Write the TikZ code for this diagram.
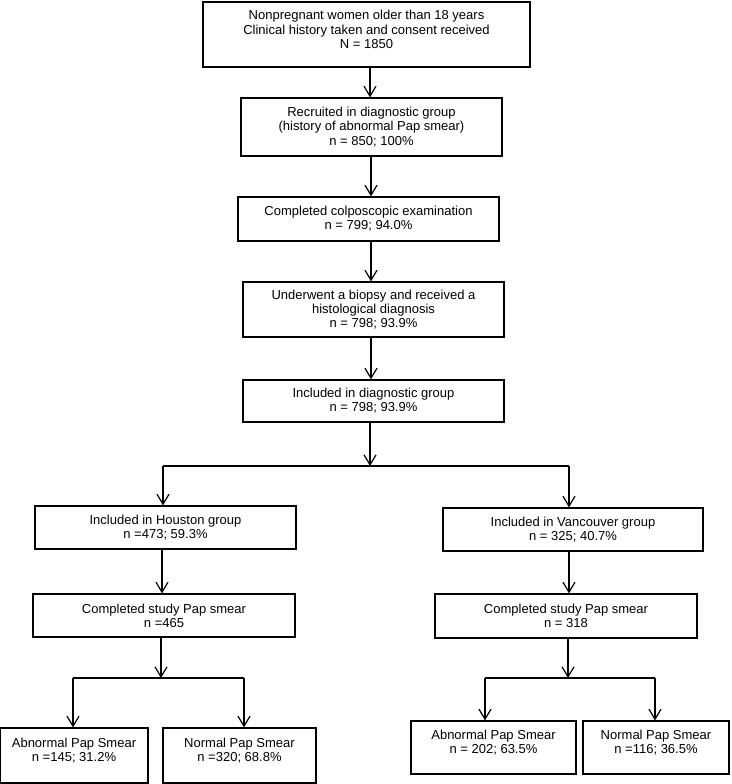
\documentclass[tikz,border=0pt]{standalone}
\usepackage{fontspec}
\setmainfont{Liberation Sans}
\usetikzlibrary{arrows.meta}
\tikzset{
  box/.style={draw=black, line width=1.3pt, rectangle, inner sep=0pt, align=center,
    font=\fontsize{13}{14.2}\selectfont},
  arr/.style={line width=1.2pt, -{Straight Barb[length=10pt,width=12pt,line width=1.2pt]}},
  ln/.style={line width=1.2pt}
}
\begin{document}
\begin{tikzpicture}[x=1pt,y=-1pt]
\useasboundingbox (0,0) rectangle (731,784);
\node[box, minimum width=327, minimum height=65] (b1) at (366.5,34.5)
  {Nonpregnant women older than 18 years\\Clinical history taken and consent received\\N = 1850\\[-4pt]\mbox{}};
\node[box, minimum width=261, minimum height=58] (b2) at (371.5,127)
  {Recruited in diagnostic group\\(history of abnormal Pap smear)\\n = 850; 100\%};
\node[box, minimum width=261, minimum height=44] (b3) at (368.5,219)
  {Completed colposcopic examination\\n = 799; 94.0\%};
\node[box, minimum width=261, minimum height=55] (b4) at (373.5,309.5)
  {Underwent a biopsy and received a\\histological diagnosis\\n = 798; 93.9\%};
\node[box, minimum width=261, minimum height=42] (b5) at (373.5,401)
  {Included in diagnostic group\\n = 798; 93.9\%};
\node[box, minimum width=261, minimum height=43] (hou) at (165.5,527.5)
  {Included in Houston group\\n =473; 59.3\%};
\node[box, minimum width=260, minimum height=43] (van) at (573,529.5)
  {Included in Vancouver group\\n = 325; 40.7\%};
\node[box, minimum width=262, minimum height=43] (ch) at (164,615.5)
  {Completed study Pap smear\\n =465};
\node[box, minimum width=262, minimum height=44] (cv) at (566,616)
  {Completed study Pap smear\\n = 318};
\node[box, minimum width=148, minimum height=55] (ah) at (74,755.5)
  {Abnormal Pap Smear\\n =145; 31.2\%\\[-2pt]\mbox{}};
\node[box, minimum width=153, minimum height=55] (nh) at (239.5,755.5)
  {Normal Pap Smear\\n =320; 68.8\%\\[-2pt]\mbox{}};
\node[box, minimum width=165, minimum height=53] (av) at (493.5,747.5)
  {Abnormal Pap Smear\\n = 202; 63.5\%\\[-2pt]\mbox{}};
\node[box, minimum width=146, minimum height=53] (nv) at (656,747.5)
  {Normal Pap Smear\\n =116; 36.5\%\\[-2pt]\mbox{}};

\coordinate (x1) at (370,0);
\coordinate (x2) at (371,0);
\draw[arr] (b1.south -| x1) -- (b2.north -| x1);
\draw[arr] (b2.south -| x2) -- (b3.north -| x2);
\draw[arr] (b3.south -| x2) -- (b4.north -| x2);
\draw[arr] (b4.south -| x2) -- (b5.north -| x2);

\coordinate (j1) at (370,466);
\coordinate (jL) at (163,466);
\coordinate (jR) at (569,466);
\draw[arr] (b5.south -| j1) -- (j1);
\draw[ln] (jL) -- (jR);
\draw[arr] (jL) -- (jL |- hou.north);
\draw[arr] (jR) -- (jR |- van.north);

\coordinate (xh) at (162,0);
\draw[arr] (hou.south -| xh) -- (ch.north -| xh);
\coordinate (xv) at (569,0);
\draw[arr] (van.south -| xv) -- (cv.north -| xv);

\coordinate (jh) at (161,678);
\coordinate (jhL) at (73,678);
\coordinate (jhR) at (244,678);
\draw[arr] (ch.south -| jh) -- (jh);
\draw[ln] (jhL) -- (jhR);
\draw[arr] (jhL) -- (jhL |- ah.north);
\draw[arr] (jhR) -- (jhR |- nh.north);

\coordinate (jv) at (568,678);
\coordinate (jvL) at (485,678);
\coordinate (jvR) at (655,678);
\draw[arr] (cv.south -| jv) -- (jv);
\draw[ln] (jvL) -- (jvR);
\draw[arr] (jvL) -- (jvL |- av.north);
\draw[arr] (jvR) -- (jvR |- nv.north);
\end{tikzpicture}
\end{document}
